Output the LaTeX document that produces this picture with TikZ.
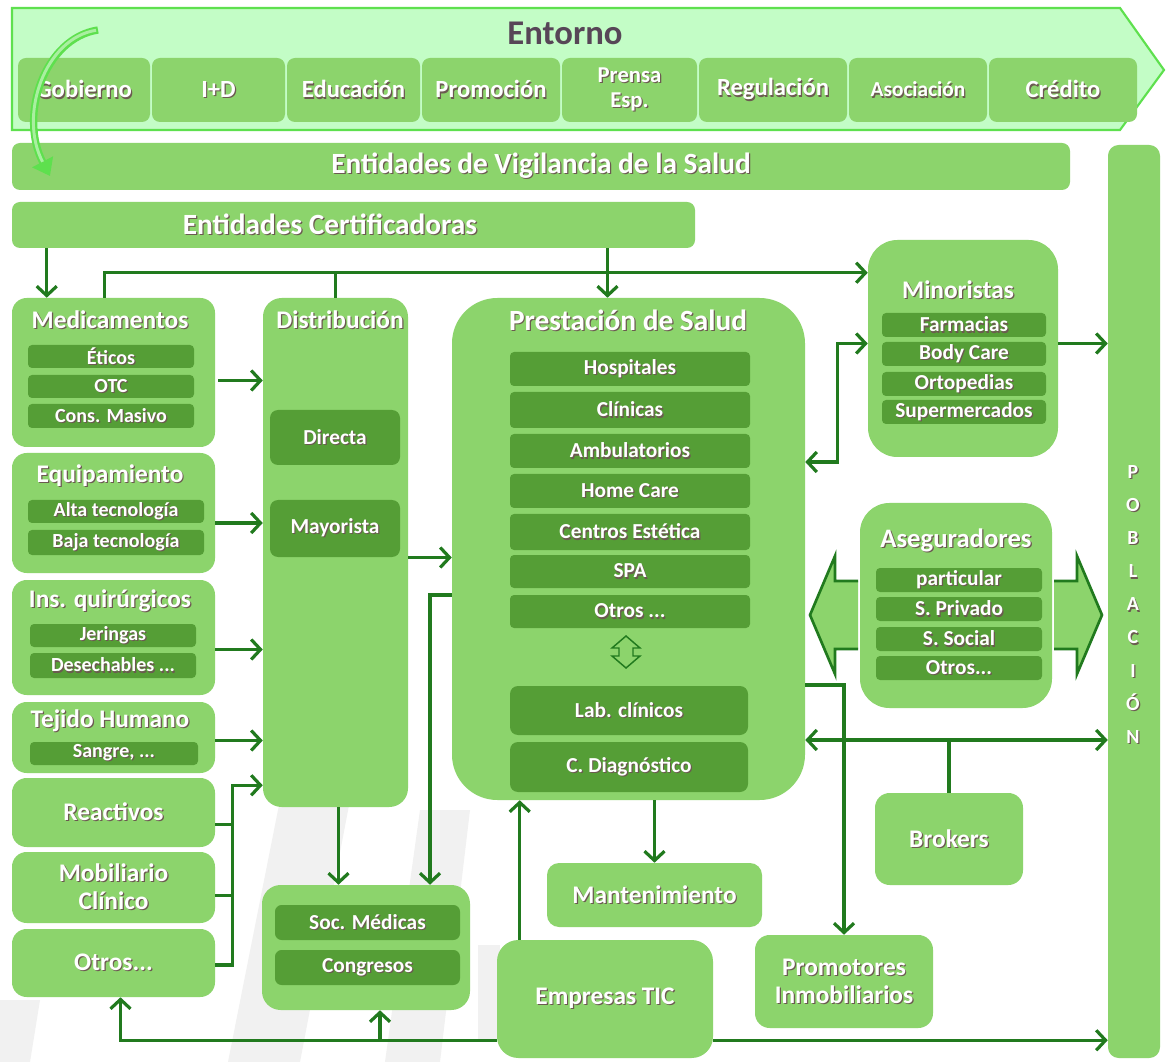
\documentclass[tikz,border=0pt]{standalone}
\usepackage{fontspec}
\setmainfont{Carlito}
\usetikzlibrary{calc,arrows.meta}
\definecolor{boxc}{HTML}{8CD46C}
\definecolor{innerc}{HTML}{559E36}
\definecolor{arrc}{HTML}{217A1E}
\definecolor{bannerc}{HTML}{C3FDC6}
\definecolor{bannerl}{HTML}{5EE04E}
\definecolor{curvein}{HTML}{A9EFA0}
\definecolor{shc}{HTML}{6B5A50}
\definecolor{entc}{HTML}{574657}
\definecolor{wm}{HTML}{F1F1F1}
\newcommand{\st}[1]{\leavevmode\rlap{\kern0.9pt\raisebox{-0.9pt}{\textcolor{shc}{#1}}}#1}
\newcommand{\fTi}{\fontsize{19}{21}\bfseries\selectfont}
\newcommand{\fIn}{\fontsize{15}{17}\bfseries\selectfont}
\newcommand{\fPr}{\fontsize{16}{18}\bfseries\selectfont}
\newcommand{\fBar}{\fontsize{22}{24}\bfseries\selectfont}
\newcommand{\fTab}{\fontsize{18.5}{20}\bfseries\selectfont}
% \bx[options]{name}{x1}{y1}{x2}{y2}{text}
\newcommand{\bx}[7][]{\node[#1, minimum width={(#5-#3)*0.75pt}, minimum height={(#6-#4)*0.75pt}] (#2) at ({(#3+#5)/2},{(#4+#6)/2}) {#7};}
\begin{document}
\begin{tikzpicture}[x=0.75pt,y=-0.75pt,
  box/.style={fill=boxc, rounded corners=11pt, inner sep=0pt, text=white},
  inbox/.style={fill=innerc, rounded corners=3pt, inner sep=0pt, text=white, font=\fIn},
  prbox/.style={inbox, font=\fPr},
  tab/.style={fill=boxc, rounded corners=6pt, inner sep=0pt, text=white, font=\fTab, align=center},
  ttl/.style={text=white, font=\fTi, inner sep=0pt},
  conn/.style={draw=arrc, line width=2.6pt},
  arr/.style={conn, -{Straight Barb[length=7pt,width=15pt,line width=2.4pt]}},
  darr/.style={conn, {Straight Barb[length=7pt,width=15pt,line width=2.4pt]}-{Straight Barb[length=7pt,width=15pt,line width=2.4pt]}},
  blk/.style={fill=boxc, draw=arrc, line width=2pt, line join=miter},
]
\fill[white] (0,0) rectangle (1168,1062);
\useasboundingbox (0,0) rectangle (1168,1062);

% watermark stripes
\fill[wm] (280,800) -- (350,800) -- (300,1062) -- (228,1062) -- cycle;
\fill[wm] (420,810) -- (470,810) -- (440,1062) -- (385,1062) -- cycle;
\fill[wm] (0,1000) -- (40,1000) -- (30,1062) -- (0,1062) -- cycle;
\fill[wm] (478,945) -- (500,945) -- (500,1040) -- (478,1040) -- cycle;

% banner
\draw[fill=bannerc, draw=bannerl, line width=1.6pt] (12,8) -- (1120,8) -- (1164,70) -- (1120,130) -- (12,130) -- cycle;
\node[text=entc, font=\fontsize{26}{28}\bfseries\selectfont] (ent) at (565,33) {Entorno};
\bx[tab]{t1}{18}{58}{150}{122}{\st{Gobierno}}
\bx[tab]{t2}{152}{58}{285}{122}{\st{I+D}}
\bx[tab]{t3}{287}{58}{420}{122}{\st{Educación}}
\bx[tab]{t4}{422}{58}{560}{122}{\st{Promoción}}
\bx[tab, font=\fontsize{17}{19}\bfseries\selectfont]{t5}{562}{58}{697}{122}{\st{Prensa}\\\st{Esp.}}
\bx[tab]{t6}{699}{58}{847}{122}{\st{Regulación}}
\bx[tab, font=\fontsize{16}{18}\bfseries\selectfont]{t7}{849}{58}{987}{122}{\st{Asociación}}
\bx[tab]{t8}{989}{58}{1137}{122}{\st{Crédito}}

% bars
\bx[box, rounded corners=6pt, font=\fBar]{vig}{12}{143}{1070}{190}{\st{Entidades de Vigilancia de la Salud}}
\bx[box, rounded corners=6pt]{cert}{12}{202}{695}{248}{}
\node[text=white, font=\fBar, inner sep=0pt] (certt) at (330,225) {\st{Entidades Certificadoras}};
\bx[box, rounded corners=8pt]{pob}{1108}{145}{1160}{1058}{}
\node[text=white, font=\fontsize{15}{24.8}\bfseries\selectfont, align=center, inner sep=0pt] (pobt) at (1133,605)
  {\st{P}\\\st{O}\\\st{B}\\\st{L}\\\st{A}\\\st{C}\\\st{I}\\\st{Ó}\\\st{N}};

% curved arrow
\draw[draw=bannerl, line width=5.5pt, -{Triangle[length=12pt,width=17pt]}] (98,30) .. controls (45,38) and (18,115) .. (50,176);
\draw[draw=curvein, line width=2.2pt, shorten >=12pt, shorten <=1.5pt] (98,30) .. controls (45,38) and (18,115) .. (50,176);

% left column
\bx[box]{med}{12}{298}{215}{447}{}
\node[ttl] (medt) at (110,320) {\st{Medicamentos}};
\bx[inbox]{m1}{28}{345}{194}{368}{\st{Éticos}}
\bx[inbox]{m2}{28}{375}{194}{398}{\st{OTC}}
\bx[inbox]{m3}{28}{404}{194}{428}{\st{Cons. Masivo}}

\bx[box]{equ}{12}{453}{215}{573}{}
\node[ttl] (equt) at (110,476) {\st{Equipamiento}};
\bx[inbox]{e1}{28}{500}{204}{523}{\st{Alta tecnología}}
\bx[inbox]{e2}{28}{530}{204}{555}{\st{Baja tecnología}}

\bx[box]{ins}{12}{580}{215}{695}{}
\node[ttl] (inst) at (110,601) {\st{Ins. quirúrgicos}};
\bx[inbox]{i1}{30}{624}{196}{647}{\st{Jeringas}}
\bx[inbox]{i2}{30}{653}{196}{678}{\st{Desechables ...}}

\bx[box]{tej}{12}{702}{215}{773}{}
\node[ttl] (tejt) at (110,721) {\st{Tejido Humano}};
\bx[inbox]{j1}{30}{742}{198}{765}{\st{Sangre, ...}}

\bx[box, font=\fTi]{rea}{12}{778}{215}{847}{\st{Reactivos}}
\bx[box, font=\fTi, align=center]{mob}{12}{852}{215}{923}{\st{Mobiliario}\\\st{Clínico}}
\bx[box, font=\fTi]{otr}{12}{929}{215}{997}{\st{Otros...}}

% distribution
\bx[box, rounded corners=14pt]{dist}{263}{298}{408}{807}{}
\node[ttl] (distt) at (340,320) {\st{Distribución}};
\bx[inbox, rounded corners=6pt, font=\fPr]{dir}{270}{410}{400}{465}{\st{Directa}}
\bx[inbox, rounded corners=6pt, font=\fPr]{may}{270}{500}{400}{557}{\st{Mayorista}}

% prestacion
\bx[box, rounded corners=34pt]{prest}{452}{298}{805}{800}{}
\node[ttl, font=\fontsize{22}{24}\bfseries\selectfont] (prestt) at (628,321) {\st{Prestación de Salud}};
\bx[prbox]{p1}{510}{352}{750}{386}{\st{Hospitales}}
\bx[prbox]{p2}{510}{392}{750}{428}{\st{Clínicas}}
\bx[prbox]{p3}{510}{434}{750}{468}{\st{Ambulatorios}}
\bx[prbox]{p4}{510}{474}{750}{508}{\st{Home Care}}
\bx[prbox]{p5}{510}{514}{750}{550}{\st{Centros Estética}}
\bx[prbox]{p6}{510}{555}{750}{588}{\st{SPA}}
\bx[prbox]{p7}{510}{595}{750}{628}{\st{Otros ...}}
\bx[prbox, rounded corners=6pt]{p8}{510}{686}{748}{735}{\st{Lab. clínicos}}
\bx[prbox, rounded corners=6pt]{p9}{510}{742}{748}{792}{\st{C. Diagnóstico}}
\draw[fill=boxc, draw=arrc, line width=1.1pt] (626,636) -- (640,648) -- (633,648) -- (633,656) -- (640,656) -- (626,668)
  -- (612,656) -- (619,656) -- (619,648) -- (612,648) -- cycle;

% minoristas
\bx[box, rounded corners=22pt]{mino}{868}{240}{1058}{457}{}
\node[ttl] (minot) at (958,290) {\st{Minoristas}};
\bx[prbox]{n1}{882}{313}{1046}{337}{\st{Farmacias}}
\bx[prbox]{n2}{882}{342}{1046}{366}{\st{Body Care}}
\bx[prbox]{n3}{882}{372}{1046}{396}{\st{Ortopedias}}
\bx[prbox]{n4}{882}{400}{1046}{424}{\st{Supermercados}}

% aseguradores
\bx[box, rounded corners=22pt]{aseg}{860}{503}{1052}{708}{}
\node[ttl, font=\fontsize{20}{22}\bfseries\selectfont] (asegt) at (956,541) {\st{Aseguradores}};
\bx[prbox]{a1}{876}{568}{1042}{592}{\st{particular}}
\bx[prbox]{a2}{876}{597}{1042}{621}{\st{S. Privado}}
\bx[prbox]{a3}{876}{627}{1042}{651}{\st{S. Social}}
\bx[prbox]{a4}{876}{656}{1042}{680}{\st{Otros...}}
\draw[blk] (858,581) -- (835,581) -- (835,556) -- (810,615) -- (835,674) -- (835,649) -- (858,649);
\draw[blk] (1054,581) -- (1077,581) -- (1077,556) -- (1102,615) -- (1077,674) -- (1077,649) -- (1054,649);

% bottom boxes
\bx[box, font=\fTi]{brok}{875}{793}{1023}{885}{\st{Brokers}}
\bx[box, rounded corners=9pt, font=\fTi]{mant}{547}{863}{762}{927}{\st{Mantenimiento}}
\bx[box, rounded corners=14pt]{soc}{262}{885}{470}{1010}{}
\bx[prbox, rounded corners=5pt]{s1}{275}{905}{460}{940}{\st{Soc. Médicas}}
\bx[prbox, rounded corners=5pt]{s2}{275}{950}{460}{985}{\st{Congresos}}
\bx[box, rounded corners=16pt, font=\fTi]{tic}{497}{940}{713}{1058}{\st{Empresas TIC}}
\bx[box, rounded corners=11pt, font=\fTi, align=center]{prom}{755}{935}{933}{1028}{\st{Promotores}\\\st{Inmobiliarios}}

% connectors top
\draw[arr] ($(cert.south west)+(35,0)$) -- ($(med.north west)+(35,0)$);
\coordinate (jL) at ($(med.north west)+(93,-25)$);
\draw[arr] ($(med.north west)+(93,0)$) -- (jL) -- (jL -| mino.west);
\draw[conn] (dist.north) -- (dist.north |- jL);
\coordinate (cp) at ($(prest.north)+(-21,0)$);
\draw[arr] (cp |- cert.south) -- (cp);

% left inputs
\coordinate (l1) at ($(med.east)+(3,8)$);
\draw[arr] (l1) -- (l1 -| dist.west);
\coordinate (l2) at ($(equ.east)+(0,10)$);
\draw[arr] (l2) -- (l2 -| dist.west);
\coordinate (l3) at ($(ins.east)+(0,12)$);
\draw[arr] (l3) -- (l3 -| dist.west);
\coordinate (l4) at ($(tej.east)+(0,3)$);
\draw[arr] (l4) -- (l4 -| dist.west);
\coordinate (btop) at ($(dist.south west)+(-30,-22)$);
\coordinate (b1) at ($(rea.east)+(0,12)$);
\coordinate (b2) at ($(mob.east)+(0,8)$);
\coordinate (b3) at ($(otr.east)+(0,2)$);
\draw[arr] (b3) -| (btop) -- (btop -| dist.west);
\draw[conn] (b1) -- (b1 -| btop);
\draw[conn] (b2) -- (b2 -| btop);

% distribution / prestacion
\coordinate (d1) at ($(dist.east)+(0,5)$);
\draw[arr] (d1) -- (d1 -| prest.west);
\coordinate (pl) at ($(prest.west)+(0,46)$);
\coordinate (sx) at ($(soc.north)+(64,0)$);
\draw[arr] (pl) -| (sx);
\draw[arr] ($(dist.south)+(3,0)$) -- ($(dist.south |- soc.north)+(3,0)$);

% right side
\coordinate (q1) at ($(prest.east)+(0,-87)$);
\coordinate (q2) at ($(mino.west)+(0,-5)$);
\draw[darr] (q1) -| ($(q2)+(-30,0)$) -- (q2);
\draw[arr] (mino.east |- q2) -- (q2 -| pob.west);
\coordinate (q3) at ($(prest.east)+(0,136)$);
\draw[arr] (q3) -| (prom.north);
\coordinate (q4) at ($(prest.east)+(0,191)$);
\draw[darr] (q4) -- (q4 -| pob.west);
\draw[conn] (brok.north) -- (brok.north |- q4);
\draw[arr] (mant.north |- prest.south) -- (mant.north);

% TIC
\coordinate (tu) at ($(tic.north west)+(23,0)$);
\draw[arr] (tu) -- (tu |- prest.south);
\coordinate (tb) at ($(tic.south west)+(0,-18)$);
\draw[arr] (tb) -| ($(otr.south)+(7,0)$);
\draw[arr] ($(soc.south |- tb)+(14,0)$) -- ($(soc.south)+(14,0)$);
\draw[arr] (tic.east |- tb) -- (tb -| pob.west);
\end{tikzpicture}
\end{document}
